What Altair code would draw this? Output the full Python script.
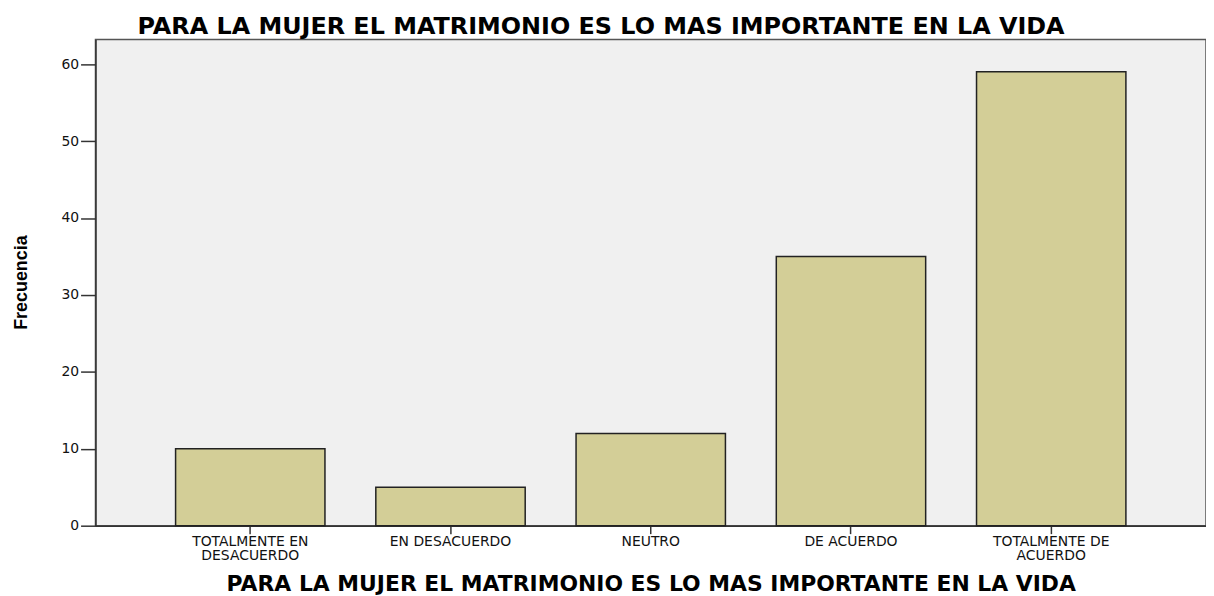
import altair as alt
import pandas as pd

categories = ["TOTALMENTE EN DESACUERDO", "EN DESACUERDO", "NEUTRO", "DE ACUERDO", "TOTALMENTE DE ACUERDO"]
frecuencia = [10, 5, 12, 35, 59]
y_ticks = [0, 10, 20, 30, 40, 50, 60]
title_text = "PARA LA MUJER EL MATRIMONIO ES LO MAS IMPORTANTE EN LA VIDA"

df = pd.DataFrame({"cat": categories, "freq": frecuencia})

label_expr = (
    "datum.label == 'TOTALMENTE EN DESACUERDO' ? ['TOTALMENTE EN', 'DESACUERDO'] : "
    "datum.label == 'TOTALMENTE DE ACUERDO' ? ['TOTALMENTE DE', 'ACUERDO'] : datum.label"
)

chart = alt.Chart(df).mark_bar(
    fill="#D3CE97", stroke="#222222", strokeWidth=1.5
).encode(
    x=alt.X(
        "cat:N", sort=categories,
        scale=alt.Scale(paddingInner=0.254, paddingOuter=0.40),
        axis=alt.Axis(
            title=title_text, labelAngle=0, labelExpr=label_expr,
            labelFont="DejaVu Sans", labelFontSize=14, labelColor="#111111",
            labelLineHeight=14, labelPadding=1, tickSize=8, tickColor="#333333",
            tickWidth=1.5, domainColor="#333333", domainWidth=1.5,
            titleFont="DejaVu Sans", titleFontSize=22, titleFontWeight="bold",
            titleColor="#000000", titleY=58, titleBaseline="middle",
        ),
    ),
    y=alt.Y(
        "freq:Q",
        scale=alt.Scale(domain=[0, 63.2], nice=False),
        axis=alt.Axis(
            title="Frecuencia", values=y_ticks, grid=False,
            labelFont="DejaVu Sans", labelFontSize=14, labelColor="#111111",
            labelPadding=2, tickSize=15, tickColor="#333333", tickWidth=1.5,
            domainColor="#333333", domainWidth=1.5,
            titleFont="Liberation Sans", titleFontSize=18, titleFontWeight="bold",
            titleColor="#000000", titleX=-74, titleY=244, titleAngle=-90,
            titleAlign="center", titleBaseline="middle",
        ),
    ),
).properties(
    width=1117, height=489,
    title=alt.TitleParams(
        text=title_text, font="DejaVu Sans", fontSize=24, fontWeight="bold",
        color="#000000", anchor="middle", frame="group", dx=-50, offset=1,
    ),
    autosize=alt.AutoSizeParams(type="none"),
    padding={"left": 88, "top": 30, "right": 0, "bottom": 69},
).configure_view(
    fill="#F0F0F0", stroke="#555555", strokeWidth=1.5
)

chart.save("out.html", embed_options={"renderer": "svg", "actions": False})
